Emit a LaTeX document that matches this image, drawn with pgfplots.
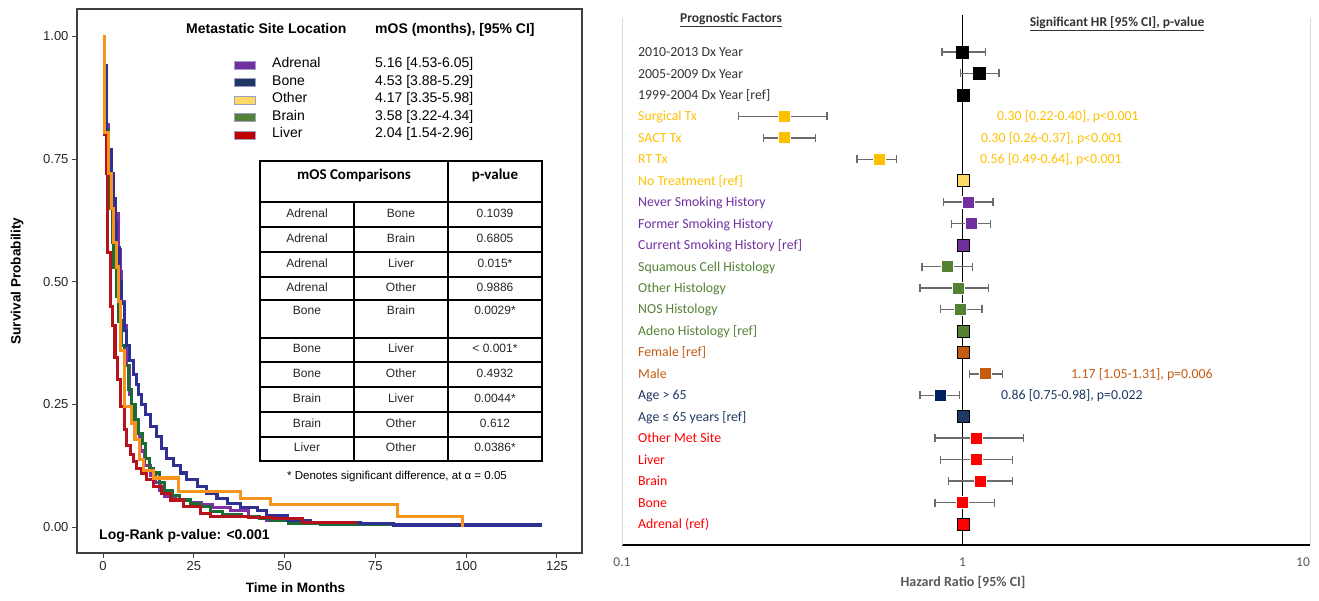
\documentclass[border=0pt]{standalone}
\usepackage{fontspec}
\setmainfont{Liberation Sans}
\newfontfamily\cfont{Carlito}
\usepackage{pgfplots}
\pgfplotsset{compat=1.18}

\definecolor{cAdr}{HTML}{8031A7}
\definecolor{cBone}{HTML}{2E3192}
\definecolor{cOth}{HTML}{F7941D}
\definecolor{cBrain}{HTML}{1B6B35}
\definecolor{cLiv}{HTML}{B5121B}
\definecolor{lAdr}{HTML}{7030A0}
\definecolor{lBone}{HTML}{1F3864}
\definecolor{lOth}{HTML}{FFD966}
\definecolor{lBrain}{HTML}{548235}
\definecolor{lLiv}{HTML}{C00000}
\definecolor{fDx}{HTML}{333333}
\definecolor{fTx}{HTML}{FFC000}
\definecolor{fSm}{HTML}{7030A0}
\definecolor{fHi}{HTML}{548235}
\definecolor{fSx}{HTML}{C55A11}
\definecolor{fAg}{HTML}{1F3864}
\definecolor{fAgM}{HTML}{002060}
\definecolor{fMs}{HTML}{FF0000}
\definecolor{gtxt}{HTML}{595959}

\newcommand{\fs}[1]{\fontsize{#1pt}{#1pt}\selectfont}
\newcommand{\ci}[3]{\addplot[gray!85!black, line width=1.4pt, mark=|, mark size=4pt, mark options={solid, line width=1.4pt}] coordinates {(#1,#3) (#2,#3)};}
\newcommand{\mk}[4]{\addplot[only marks, mark=square*, mark size=6pt, mark options={fill=#1, draw=#2, line width=0.8pt}] coordinates {(#3,#4)};}

\begin{document}
\begin{tikzpicture}[x=1pt,y=1pt, txt/.style={inner sep=0pt, text height=0.72em, text depth=0.2em}]
\useasboundingbox (0,0) rectangle (1319,600);

% ================= LEFT: Kaplan-Meier =================
\begin{axis}[
  at={(77pt,47pt)}, anchor=south west, scale only axis,
  width=505pt, height=544pt,
  xmin=-7.16, xmax=131.9, ymin=-0.053, ymax=1.056,
  axis line style={line width=1.3pt, black!75},
  xtick={0,25,50,75,100,125}, ytick={0,0.25,0.5,0.75,1},
  yticklabels={0.00,0.25,0.50,0.75,1.00},
  xtick pos=bottom, ytick pos=left, tick align=outside,
  major tick length=5pt,
  tick style={line width=1pt, black!75},
  ticklabel style={font=\fs{13}, text=black!85},
  /pgf/number format/assume math mode=true,
  line join=miter,
]
\addplot[const plot, cAdr, line width=3.1pt] coordinates {
(0,1) (0.5,0.92) (1.0,0.82) (1.6,0.76) (2.2,0.71) (2.8,0.66) (3.3,0.64) (4.2,0.565) (4.7,0.52) (5.2,0.46) (5.8,0.41) (6.5,0.33) (7.2,0.27) (7.9,0.225) (8.8,0.19) (10.2,0.155) (11.5,0.125) (13,0.105) (14.5,0.09) (15.7,0.075) (17,0.062) (20,0.055) (24,0.05) (27,0.045) (30,0.04) (35,0.034) (40,0.02) (45,0.0135) (52,0.007) (77,0.007)};
\addplot[const plot, cBrain, line width=3.1pt] coordinates {
(0,1) (0.5,0.90) (1.0,0.81) (1.5,0.72) (1.9,0.65) (2.5,0.58) (3.0,0.53) (3.6,0.47) (4.2,0.42) (5.0,0.37) (6.0,0.33) (7.0,0.28) (7.8,0.25) (8.8,0.22) (9.8,0.19) (10.8,0.17) (11.7,0.14) (12.8,0.12) (13.8,0.11) (15.5,0.09) (17,0.075) (19,0.065) (21,0.055) (24,0.047) (26.8,0.041) (29.6,0.031) (33,0.026) (38,0.022) (43,0.018) (46,0.014) (51,0.008) (60,0.006) (80,0.005) (103,0.005)};
\addplot[const plot, cBone, line width=3.1pt] coordinates {
(0,1) (0.5,0.94) (1.0,0.80) (1.6,0.77) (2.3,0.72) (2.8,0.67) (3.3,0.62) (3.8,0.57) (4.5,0.50) (5.2,0.455) (5.8,0.40) (6.4,0.37) (7.2,0.34) (8.4,0.31) (9.2,0.29) (9.8,0.27) (10.7,0.25) (11.6,0.23) (13,0.205) (14.8,0.185) (16.2,0.16) (17.6,0.14) (19.4,0.125) (21.3,0.11) (23.1,0.097) (25.9,0.083) (28.6,0.068) (31.4,0.058) (34.2,0.047) (37.8,0.04) (42.5,0.033) (45,0.024) (50.8,0.0135) (57,0.010) (71,0.007) (80,0.004) (121,0.004)};
\addplot[const plot, cLiv, line width=3.1pt] coordinates {
(0,1) (0.3,0.80) (0.9,0.72) (1.3,0.56) (2.0,0.45) (2.6,0.41) (3.3,0.345) (4.0,0.30) (4.7,0.245) (5.8,0.198) (6.5,0.167) (7.6,0.147) (8.4,0.133) (9.3,0.12) (10.7,0.11) (12.1,0.096) (13.8,0.082) (16.2,0.069) (18.5,0.055) (22.1,0.041) (26.8,0.028) (29.6,0.021) (40,0.019) (47,0.017) (55,0.010) (70,0.010)};
\addplot[const plot, cOth, line width=3.1pt] coordinates {
(0,1) (0.5,0.805) (1.5,0.72) (2.4,0.65) (3.0,0.58) (3.6,0.53) (4.2,0.46) (4.8,0.36) (5.8,0.245) (7.9,0.212) (8.8,0.178) (10,0.137) (11.1,0.116) (13.8,0.10) (20.7,0.072) (37.8,0.059) (46,0.045) (81,0.021) (99,0.021) (99,0.0)};
\end{axis}

% legend
\node[txt, anchor=west, font=\bfseries\fs{14}] at (186,569) {Metastatic Site Location};
\node[txt, anchor=west, font=\bfseries\fs{14}] at (375,569) {mOS (months), [95\% CI]};
\foreach \y/\c/\n/\v in {535/lAdr/Adrenal/{5.16 [4.53-6.05]}, 517.5/lBone/Bone/{4.53 [3.88-5.29]}, 500/lOth/Other/{4.17 [3.35-5.98]}, 482.5/lBrain/Brain/{3.58 [3.22-4.34]}, 465/lLiv/Liver/{2.04 [1.54-2.96]}}{
  \fill[\c, draw=blue!25!gray!60, line width=0.8pt] (234,\y-4) rectangle (255,\y+4);
  \node[txt, anchor=west, font=\fs{14}] at (272,\y) {\n};
  \node[txt, anchor=west, font=\fs{14}] at (375,\y) {\v};
}

% table
\begin{scope}[line width=1.4pt, black]
\draw (260,439) rectangle (542,139);
\draw (260,398) -- (542,398);
\foreach \y in {373,348,323,300,262,238,213,188,163} \draw (260,\y) -- (542,\y);
\draw (354,398) -- (354,139);
\draw (448,439) -- (448,139);
\end{scope}
\node[txt, font=\cfont\bfseries\fs{15}] at (354,423) {mOS Comparisons};
\node[txt, font=\cfont\bfseries\fs{15}] at (495,423) {p-value};
\foreach \y/\a/\b/\p in {385.5/Adrenal/Bone/0.1039, 360.5/Adrenal/Brain/0.6805, 335.5/Adrenal/Liver/0.015*, 311.5/Adrenal/Other/0.9886, 288/Bone/Brain/0.0029*, 250/Bone/Liver/{< 0.001*}, 225.5/Bone/Other/0.4932, 200.5/Brain/Liver/0.0044*, 175.5/Brain/Other/0.612, 151/Liver/Other/0.0386*}{
  \node[txt, font=\fs{12}, text=black!85] at (307,\y) {\a};
  \node[txt, font=\fs{12}, text=black!85] at (401,\y) {\b};
  \node[txt, font=\fs{12}, text=black!85] at (495,\y) {\p};
}
\node[txt, font=\fs{11.5}] at (397,123) {* Denotes significant difference, at α = 0.05};
\node[txt, anchor=west, font=\bfseries\fs{14}] at (99,63.5) {Log-Rank p-value: <0.001};
\node[txt, font=\bfseries\fs{13.6}, rotate=90] at (18,319) {Survival Probability};
\node[txt, font=\bfseries\fs{13.6}] at (295.5,10) {Time in Months};

% ================= RIGHT: Forest plot =================
\begin{axis}[
  at={(622pt,55pt)}, anchor=south west, scale only axis,
  width=688pt, height=535pt,
  xmode=log, xmin=0.1, xmax=10.485,
  ymin=-0.958, ymax=23.98, y dir=reverse,
  axis x line=bottom, axis y line=none,
  x axis line style={-, line width=2.6pt, black},
  xtick={0.1,1,10}, xticklabels={0.1,1,10}, minor xtick={},
  major tick length=0pt,
  xticklabel style={font=\cfont\fs{13.5}, text=gtxt, yshift=-9pt},
  clip=false,
]
\draw[black!15, line width=0.8pt] (rel axis cs:0,0) -- (rel axis cs:0,0.985);
\draw[black!15, line width=0.8pt] (rel axis cs:1,0) -- (rel axis cs:1,0.985);
\addplot[black, line width=1.6pt] coordinates {(1,-0.72) (1,23.98)};
% confidence intervals
\ci{0.87}{1.17}{1}
\ci{0.985}{1.28}{2}
\ci{0.22}{0.40}{4}
\ci{0.26}{0.37}{5}
\ci{0.49}{0.64}{6}
\ci{0.88}{1.23}{8}
\ci{0.93}{1.21}{9}
\ci{0.76}{1.07}{11}
\ci{0.75}{1.19}{12}
\ci{0.86}{1.14}{13}
\ci{1.05}{1.31}{16}
\ci{0.75}{0.98}{17}
\ci{0.83}{1.51}{19}
\ci{0.86}{1.40}{20}
\ci{0.91}{1.40}{21}
\ci{0.83}{1.24}{22}
% markers
\mk{black}{black}{1.00}{1}
\mk{black}{black}{1.12}{2}
\mk{black}{black}{1.005}{3}
\mk{fTx}{white}{0.30}{4}
\mk{fTx}{white}{0.30}{5}
\mk{fTx}{white}{0.57}{6}
\mk{lOth}{black}{1.005}{7}
\mk{fSm}{white}{1.04}{8}
\mk{fSm}{white}{1.06}{9}
\mk{fSm}{black}{1.005}{10}
\mk{fHi}{white}{0.90}{11}
\mk{fHi}{white}{0.975}{12}
\mk{fHi}{white}{0.985}{13}
\mk{fHi}{black}{1.005}{14}
\mk{fSx}{black}{1.005}{15}
\mk{fSx}{white}{1.17}{16}
\mk{fAgM}{white}{0.86}{17}
\mk{lBone}{black}{1.005}{18}
\mk{fMs}{white}{1.095}{19}
\mk{fMs}{white}{1.095}{20}
\mk{fMs}{white}{1.13}{21}
\mk{fMs}{white}{1.00}{22}
\mk{fMs}{black}{1.005}{23}
\end{axis}

% row labels
\foreach \r/\c/\t in {1/fDx/{2010-2013 Dx Year}, 2/fDx/{2005-2009 Dx Year}, 3/fDx/{1999-2004 Dx Year [ref]},
  4/fTx/{Surgical Tx}, 5/fTx/{SACT Tx}, 6/fTx/{RT Tx}, 7/fTx/{No Treatment [ref]},
  8/fSm/{Never Smoking History}, 9/fSm/{Former Smoking History}, 10/fSm/{Current Smoking History [ref]},
  11/fHi/{Squamous Cell Histology}, 12/fHi/{Other Histology}, 13/fHi/{NOS Histology}, 14/fHi/{Adeno Histology [ref]},
  15/fSx/{Female [ref]}, 16/fSx/{Male}, 17/fAg/{Age > 65}, 18/fAg/{Age ≤ 65 years [ref]},
  19/fMs/{Other Met Site}, 20/fMs/{Liver}, 21/fMs/{Brain}, 22/fMs/{Bone}, 23/fMs/{Adrenal (ref)}}{
  \node[txt, anchor=west, text=\c, font=\cfont\fs{13.8}] at (638,{546-21.45*(\r-1)}) {\t};
}

\node[txt, font=\cfont\bfseries\fs{13.5}, text=black!80] at (731,580) {\underline{Prognostic Factors}};
\node[txt, font=\cfont\bfseries\fs{13.5}, text=black!80] at (1117,576) {\underline{Significant HR [95\% CI], p-value}};
\node[txt, anchor=west, font=\cfont\fs{13.8}, text=fTx] at (997,481.6) {0.30 [0.22-0.40], p<0.001};
\node[txt, anchor=west, font=\cfont\fs{13.8}, text=fTx] at (981,460.2) {0.30 [0.26-0.37], p<0.001};
\node[txt, anchor=west, font=\cfont\fs{13.8}, text=fTx] at (980,438.7) {0.56 [0.49-0.64], p<0.001};
\node[txt, anchor=west, font=\cfont\fs{13.8}, text=fSx] at (1071,224.3) {1.17 [1.05-1.31], p=0.006};
\node[txt, anchor=west, font=\cfont\fs{13.8}, text=fAg] at (1001,202.8) {0.86 [0.75-0.98], p=0.022};
\node[txt, font=\cfont\bfseries\fs{14}, text=gtxt] at (963,16) {Hazard Ratio [95\% CI]};
\end{tikzpicture}
\end{document}
